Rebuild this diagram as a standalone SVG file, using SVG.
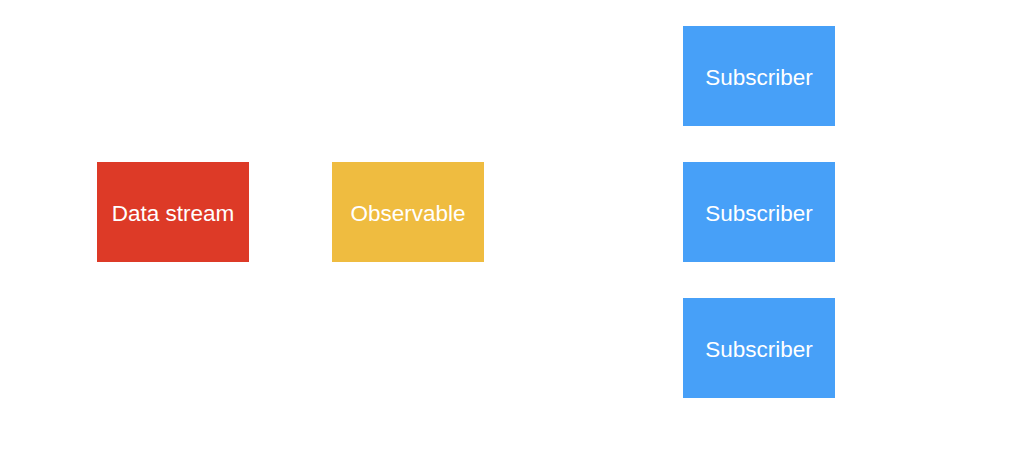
<svg xmlns="http://www.w3.org/2000/svg" width="1024" height="460" viewBox="0 0 1024 460">
<style>
.lbl{font-family:"Liberation Sans",Arial,sans-serif;font-size:22.5px;fill:#ffffff;text-anchor:middle;dominant-baseline:central}
.red{fill:#DD3A27}
.yel{fill:#EFBC40}
.blue{fill:#47A0F8}
</style>
<rect width="1024" height="460" fill="#ffffff"/>
<g id="connectors"></g>
<g id="data-stream"><rect class="red" x="97" y="162" width="152" height="100"/><text class="lbl" x="173" y="213.5">Data stream</text></g>
<g id="observable"><rect class="yel" x="332" y="162" width="152" height="100"/><text class="lbl" x="408" y="213.5">Observable</text></g>
<g id="subscriber-1"><rect class="blue" x="683" y="26" width="152" height="100"/><text class="lbl" x="759" y="77.5">Subscriber</text></g>
<g id="subscriber-2"><rect class="blue" x="683" y="162" width="152" height="100"/><text class="lbl" x="759" y="213.5">Subscriber</text></g>
<g id="subscriber-3"><rect class="blue" x="683" y="298" width="152" height="100"/><text class="lbl" x="759" y="349.5">Subscriber</text></g>
</svg>
